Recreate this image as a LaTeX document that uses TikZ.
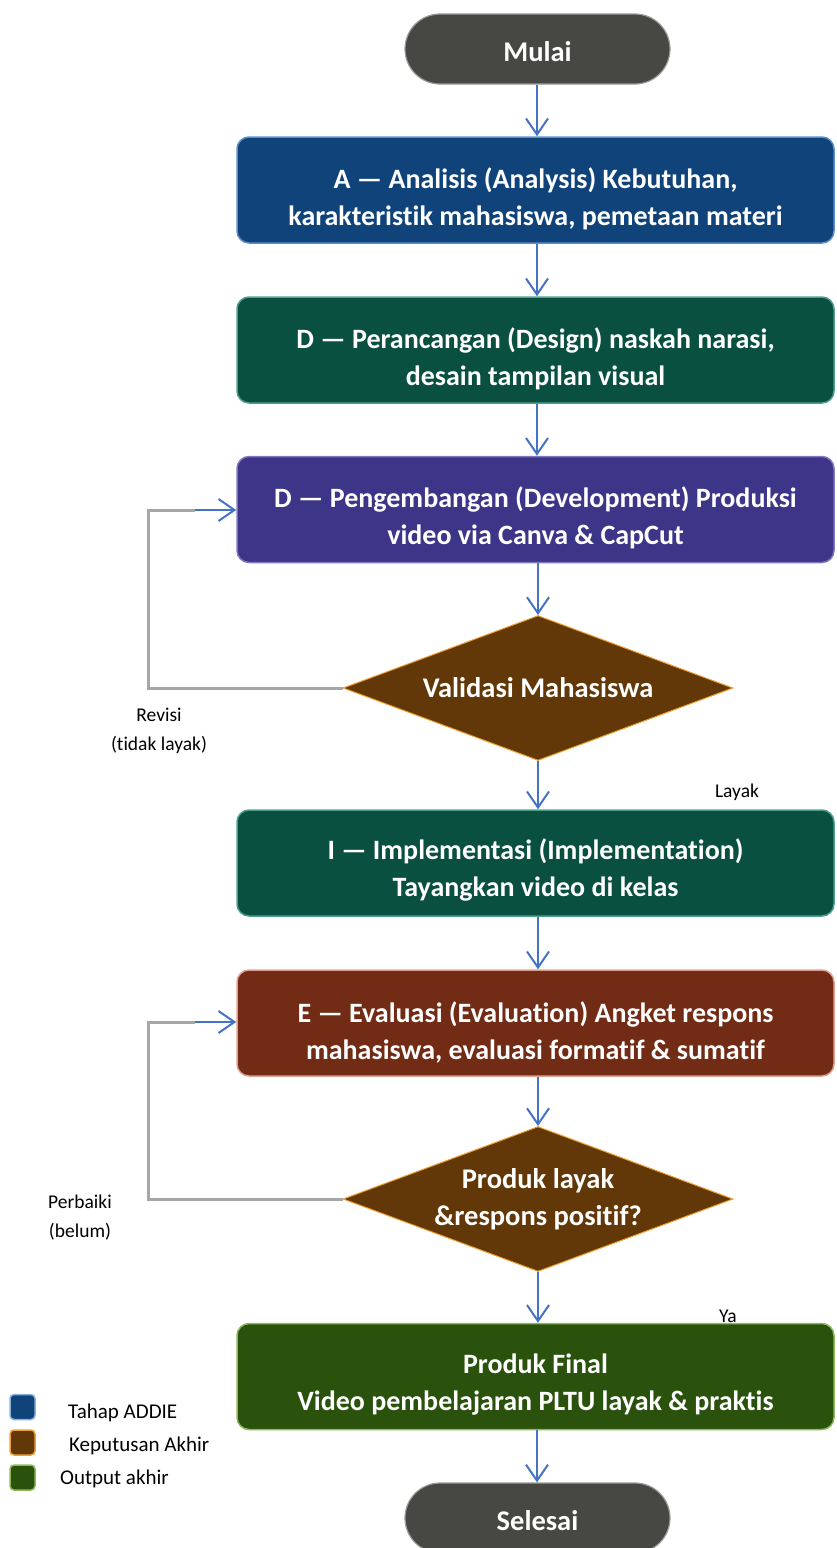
\documentclass[tikz,border=0pt]{standalone}
\usepackage{fontspec}
\setmainfont{Carlito}[Ligatures=NoCommon]
\usetikzlibrary{arrows.meta,shapes.geometric}
\definecolor{arrowblue}{HTML}{4472C4}
\definecolor{fbgray}{HTML}{A6A6A6}
\definecolor{termfill}{HTML}{474743}
\definecolor{termdraw}{HTML}{9A9A96}
\definecolor{afill}{HTML}{0F4379}
\definecolor{adraw}{HTML}{5B8FC7}
\definecolor{gfill}{HTML}{0A5041}
\definecolor{gdraw}{HTML}{4FA08A}
\definecolor{pfill}{HTML}{3D3587}
\definecolor{pdraw}{HTML}{7F77C0}
\definecolor{dfill}{HTML}{633808}
\definecolor{ddraw}{HTML}{F0A030}
\definecolor{efill}{HTML}{722B15}
\definecolor{edraw}{HTML}{E0A090}
\definecolor{ffill}{HTML}{2A520D}
\definecolor{fdraw}{HTML}{8DB85A}
\begin{document}
\begin{tikzpicture}[x=1pt,y=-1pt,
  flow/.style={draw=arrowblue, line width=2pt, -{Straight Barb[length=16pt,width=22pt,line width=2pt]}},
  fbline/.style={draw=fbgray, line width=3pt},
  term/.style={rectangle, rounded corners=35pt, minimum width=265pt, minimum height=70pt,
    fill=termfill, draw=termdraw, line width=1.2pt},
  termtext/.style={text=white, font=\bfseries\fontsize{28.5}{36}\selectfont, inner sep=0pt},
  stage/.style={rectangle, rounded corners=12pt, minimum width=597pt, minimum height=106pt, line width=1.5pt},
  stagetext/.style={text=white, align=center, font=\bfseries\fontsize{28}{37}\selectfont, inner sep=0pt},
  decision/.style={diamond, aspect=2.7, minimum width=390pt, minimum height=145pt, inner sep=0pt,
    fill=dfill, draw=ddraw, line width=1pt, text=white, align=center,
    font=\bfseries\fontsize{28.5}{37}\selectfont},
  note/.style={align=center, font=\fontsize{19.5}{29}\selectfont, text=black, inner sep=0pt},
  legbox/.style={rectangle, rounded corners=4pt, minimum width=25pt, minimum height=25pt, line width=1.5pt, inner sep=0pt},
  legtext/.style={anchor=west, font=\fontsize{21}{24}\selectfont, inner sep=0pt}
]
\useasboundingbox (0,0) rectangle (836,1548);

% terminals
\node[term] (mulai) at (537.5,49) {};
\node[termtext] (mulait) at ([yshift=-3pt]mulai.center) {Mulai};

% stage boxes
\node[stage, fill=afill, draw=adraw] (a) at (535.5,190) {};
\node[stagetext] (at) at ([yshift=-9pt]a.center) {A — Analisis (Analysis) Kebutuhan,\\karakteristik mahasiswa, pemetaan materi};

\node[stage, fill=gfill, draw=gdraw] (d1) at (535.5,350) {};
\node[stagetext] (d1t) at ([yshift=-9pt]d1.center) {D — Perancangan (Design) naskah narasi,\\desain tampilan visual};

\node[stage, fill=pfill, draw=pdraw] (d2) at (535.5,509.5) {};
\node[stagetext] (d2t) at ([yshift=-8pt]d2.center) {D — Pengembangan (Development) Produksi\\video via Canva \& CapCut};

\node[decision] (v) at (538,688) {Validasi Mahasiswa};

\node[stage, fill=gfill, draw=gdraw] (i) at (535.5,863) {};
\node[stagetext] (it) at ([yshift=-7pt]i.center) {I — Implementasi (Implementation)\\Tayangkan video di kelas};

\node[stage, fill=efill, draw=edraw] (e) at (535.5,1023) {};
\node[stagetext] (et) at ([yshift=-9pt]e.center) {E — Evaluasi (Evaluation) Angket respons\\mahasiswa, evaluasi formatif \& sumatif};

\node[decision] (p) at (538,1199) {Produk layak\\\&respons positif?};

\node[stage, fill=ffill, draw=fdraw] (f) at (535.5,1376.5) {};
\node[stagetext] (ft) at ([yshift=-8pt]f.center) {Produk Final\\Video pembelajaran PLTU layak \& praktis};

\node[term] (selesai) at (537.5,1518) {};
\node[termtext] (selesait) at ([yshift=-3pt]selesai.center) {Selesai};

% main flow
\draw[flow] (mulai.south -| 537,0) -- (a.north -| 537,0);
\draw[flow] (a.south -| 537,0) -- (d1.north -| 537,0);
\draw[flow] (d1.south -| 537,0) -- (d2.north -| 537,0);
\draw[flow] (d2.south -| 538,0) -- (v.north);
\draw[flow] (v.south) -- (i.north -| 538,0);
\draw[flow] (i.south -| 538,0) -- (e.north -| 538,0);
\draw[flow] (e.south -| 538,0) -- (p.north);
\draw[flow] (p.south) -- (f.north -| 538,0);
\draw[flow] (f.south -| 537,0) -- (selesai.north -| 537,0);

% feedback loops
\coordinate (c1) at (195,510);
\draw[fbline] (v.west) -- (148,688) -- (148,510) -- (c1);
\draw[flow] (c1) -- (c1 -| d2.west);

\coordinate (c2) at (195,1022);
\draw[fbline] (p.west) -- (148,1199) -- (148,1022) -- (c2);
\draw[flow] (c2) -- (c2 -| e.west);

% labels
\node[note] (revisi) at (159,731) {Revisi\\(tidak layak)};
\node[note] (layak) at (737,792) {Layak};
\node[note] (perbaiki) at (80,1218) {Perbaiki\\(belum)};
\node[note] (ya) at (728,1316) {Ya};

% legend
\node[legbox, fill=afill, draw=adraw!70!white] (l1) at (22.5,1407) {};
\node[legbox, fill=dfill, draw=ddraw] (l2) at (22.5,1442.5) {};
\node[legbox, fill=ffill, draw=fdraw] (l3) at (22.5,1477.5) {};
\node[legtext] (l1t) at (68,1413) {Tahap ADDIE};
\node[legtext] (l2t) at (69,1446) {Keputusan Akhir};
\node[legtext] (l3t) at (60,1479) {Output akhir};
\end{tikzpicture}
\end{document}
